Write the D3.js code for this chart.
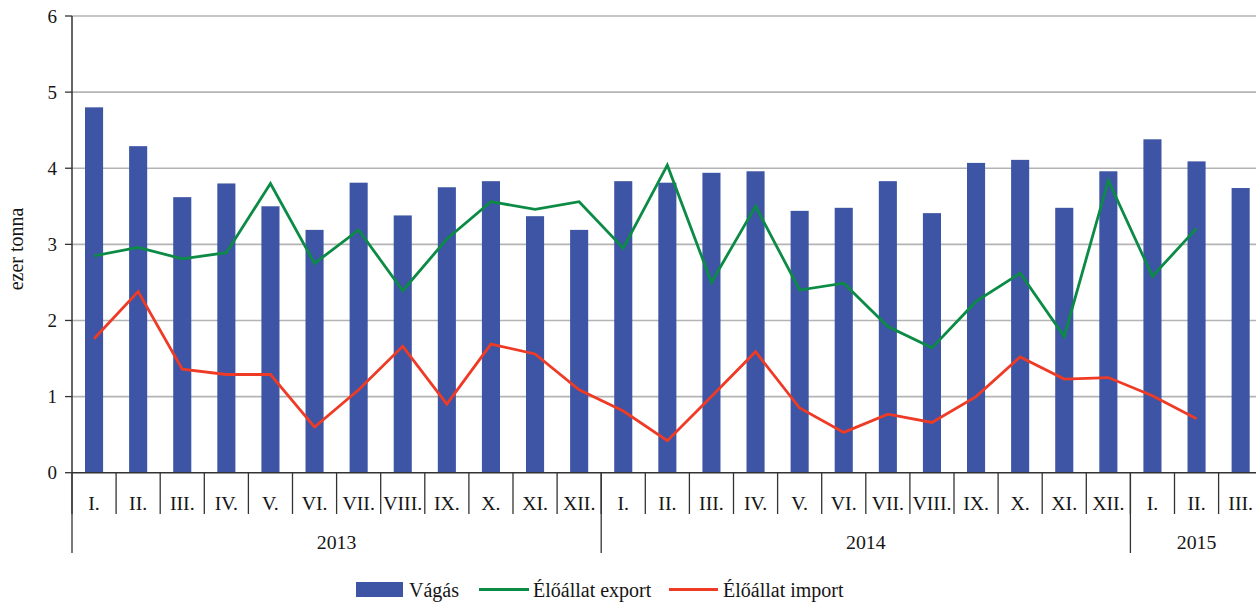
<!DOCTYPE html>
<html><head><meta charset="utf-8">
<script src="https://cdn.jsdelivr.net/npm/d3@7"></script>
<style>body{margin:0;background:#fff}svg{display:block}</style>
</head><body><svg id="c" width="1256" height="603" font-family="'Liberation Serif', 'DejaVu Serif', 'Times New Roman', Times, serif"></svg>
<script>
const months = ["I.","II.","III.","IV.","V.","VI.","VII.","VIII.","IX.","X.","XI.","XII.",
                "I.","II.","III.","IV.","V.","VI.","VII.","VIII.","IX.","X.","XI.","XII.",
                "I.","II.","III."];
const years = [{label:"2013",n:12},{label:"2014",n:12},{label:"2015",n:3}];
const vagas = [4.80,4.29,3.62,3.80,3.50,3.19,3.81,3.38,3.75,3.83,3.37,3.19,
               3.83,3.81,3.94,3.96,3.44,3.48,3.83,3.41,4.07,4.11,3.48,3.96,
               4.38,4.09,3.74];
const exportVals = [2.85,2.96,2.81,2.89,3.80,2.75,3.19,2.39,3.07,3.56,3.46,3.56,
                    2.95,4.04,2.50,3.50,2.40,2.49,1.92,1.64,2.25,2.62,1.79,3.84,
                    2.58,3.21,null];
const importVals = [1.76,2.38,1.36,1.29,1.29,0.60,1.09,1.66,0.90,1.69,1.56,1.09,
                    0.81,0.42,1.00,1.59,0.85,0.53,0.77,0.66,1.00,1.52,1.23,1.25,
                    1.01,0.71,null];
const yTicks = [0,1,2,3,4,5,6];
const seriesNames = ["Vágás","Élőállat export","Élőállat import"];
const colors = {bar:"#3d55a4", exp:"#0b8b45", imp:"#ef3b26"};

(function(){
const svg = d3.select("#c");
const FF = "'Liberation Serif', 'DejaVu Serif', serif";
const TXT = "#151515";
const left = 72, topY = 16, bottom = 472.7, step = 44.1;
const idx = d3.range(months.length);
const x = d3.scaleBand().domain(idx).range([left, left + step*months.length]).padding(0);
const pad = 0.59;
const xb = d3.scaleBand().domain(idx).range([left, left + step*months.length]).paddingInner(pad).paddingOuter(pad/2);
const y = d3.scaleLinear().domain([0,6]).range([bottom, topY]);
const cx = i => x(i) + x.bandwidth()/2;

// gridlines
svg.append("g").selectAll("line").data(yTicks.filter(d=>d>0)).join("line")
  .attr("x1", left).attr("x2", 1256).attr("y1", d=>y(d)).attr("y2", d=>y(d))
  .attr("stroke","#b4b4b4").attr("stroke-width",1.6);

// bars
svg.append("g").selectAll("rect").data(vagas).join("rect")
  .attr("x",(d,i)=>xb(i)).attr("width",xb.bandwidth())
  .attr("y",d=>y(d)).attr("height",d=>y(0)-y(d)).attr("fill",colors.bar);

// lines
const line = d3.line().defined(d=>d!=null).x((d,i)=>cx(i)).y(d=>y(d));
svg.append("path").datum(exportVals).attr("d",line).attr("fill","none")
  .attr("stroke",colors.exp).attr("stroke-width",2.8).attr("stroke-linejoin","miter");
svg.append("path").datum(importVals).attr("d",line).attr("fill","none")
  .attr("stroke",colors.imp).attr("stroke-width",2.8).attr("stroke-linejoin","miter");

// y axis
const ya = svg.append("g");
ya.append("line").attr("x1",left).attr("x2",left).attr("y1",topY).attr("y2",bottom)
  .attr("stroke","#333").attr("stroke-width",1.5);
ya.selectAll("line.t").data(yTicks).join("line").attr("class","t")
  .attr("x1",left-7).attr("x2",left).attr("y1",d=>y(d)).attr("y2",d=>y(d))
  .attr("stroke","#333").attr("stroke-width",1.3);
ya.selectAll("text").data(yTicks).join("text")
  .attr("x",left-15).attr("y",d=>y(d)+6.5).attr("text-anchor","end")
  .attr("font-family",FF).attr("font-size",19).attr("fill",TXT).text(d=>d);

svg.append("text").attr("transform","translate(23,249) rotate(-90)")
  .attr("text-anchor","middle").attr("font-family",FF).attr("font-size",20).attr("fill",TXT).text("ezer tonna");

// x axis
const xa = svg.append("g");
xa.append("line").attr("x1",left).attr("x2",1256).attr("y1",bottom).attr("y2",bottom)
  .attr("stroke","#333").attr("stroke-width",1.5);
const edge = i => i<months.length ? x(i) : x(months.length-1)+x.bandwidth();
xa.selectAll("line.m").data(d3.range(months.length+1)).join("line").attr("class","m")
  .attr("x1",edge).attr("x2",edge)
  .attr("y1",bottom).attr("y2",514).attr("stroke","#333").attr("stroke-width",1.3);
xa.selectAll("text.m").data(months).join("text").attr("class","m")
  .attr("transform",(d,i)=>`translate(${cx(i)},510) scale(1.1,1)`)
  .attr("text-anchor","middle").attr("font-family",FF).attr("font-size",18).attr("fill",TXT).text(d=>d);

let start = 0;
const yearPos = years.map(yr => { const s = start; start += yr.n; return {label:yr.label, s, e:start}; });
xa.selectAll("line.y").data(yearPos).join("line").attr("class","y")
  .attr("x1",d=>edge(d.s)).attr("x2",d=>edge(d.s)).attr("y1",bottom).attr("y2",553)
  .attr("stroke","#333").attr("stroke-width",1.3);
xa.selectAll("text.y").data(yearPos).join("text").attr("class","y")
  .attr("transform",d=>`translate(${(edge(d.s)+edge(d.e))/2},549) scale(1.1,1)`)
  .attr("text-anchor","middle").attr("font-family",FF).attr("font-size",18).attr("fill",TXT).text(d=>d.label);

// legend
const lg = svg.append("g").attr("font-family",FF).attr("font-size",20).attr("fill",TXT);
lg.append("rect").attr("x",356).attr("y",582).attr("width",47).attr("height",15).attr("fill",colors.bar);
lg.append("text").attr("x",409).attr("y",597).text(seriesNames[0]);
lg.append("line").attr("x1",479).attr("x2",529).attr("y1",589.5).attr("y2",589.5).attr("stroke",colors.exp).attr("stroke-width",2.8);
lg.append("text").attr("x",533).attr("y",597).text(seriesNames[1]);
lg.append("line").attr("x1",669).attr("x2",718).attr("y1",589.5).attr("y2",589.5).attr("stroke",colors.imp).attr("stroke-width",2.8);
lg.append("text").attr("x",723).attr("y",597).text(seriesNames[2]);
})();
</script></body></html>
